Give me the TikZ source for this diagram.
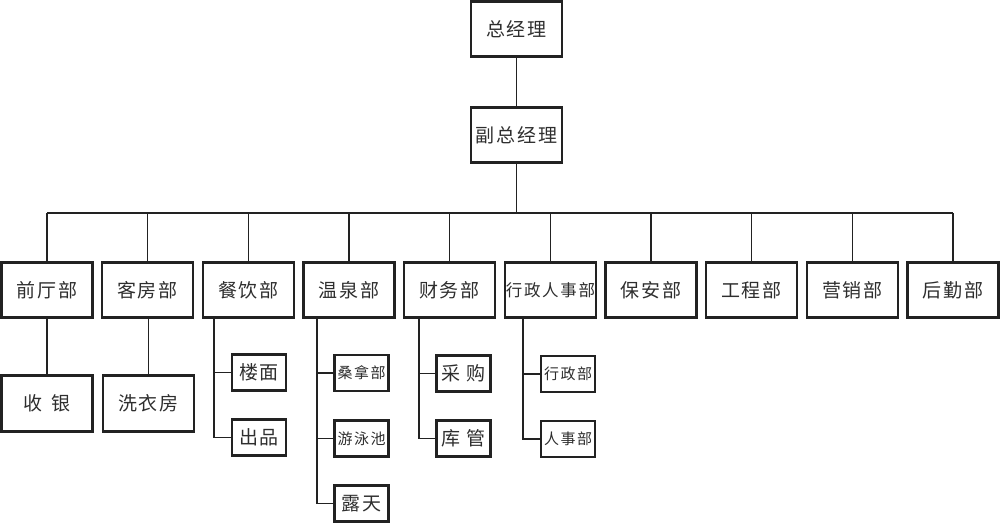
\documentclass[tikz,border=0pt]{standalone}
\usepackage{fontspec}
\newfontfamily\cjk[LetterSpace=10]{Noto Sans CJK SC}
\definecolor{ink}{HTML}{222222}
\definecolor{txt}{HTML}{2E2E2E}
\begin{document}
\begin{tikzpicture}[x=1pt,y=-1pt,
  box/.style={draw=ink, line width=2.2pt, inner sep=0pt, text=txt, font=\cjk\fontsize{19}{19}\selectfont},
  top/.style={box, minimum width=91pt, minimum height=55pt},
  dept/.style={box, minimum width=91pt, minimum height=55pt},
  leaf/.style={box, minimum width=91pt, minimum height=56pt},
  sub/.style={box, line width=2.6pt, minimum width=54pt, minimum height=36pt},
  subs/.style={sub, font=\cjk\fontsize{15}{15}\selectfont},
  link/.style={draw=ink, line width=1.4pt}]
\useasboundingbox (0,0) rectangle (1000,523);
% top
\node[top] (gm) at (516.5,29) {总经理};
\node[top] (vgm) at (516.5,135) {副总经理};
% departments
\node[dept] (d1) at (47,290) {前厅部};
\node[dept] (d2) at (147.5,290) {客房部};
\node[dept] (d3) at (248.5,290) {餐饮部};
\node[dept] (d4) at (349,290) {温泉部};
\node[dept] (d5) at (449.5,290) {财务部};
\node[dept, font=\cjk\fontsize{16.5}{16.5}\selectfont] (d6) at (550.5,290) {行政人事部};
\node[dept] (d7) at (651,290) {保安部};
\node[dept] (d8) at (751.5,290) {工程部};
\node[dept] (d9) at (852.5,290) {营销部};
\node[dept] (d10) at (953,290) {后勤部};
\coordinate (bus) at (0,213);
% leaves
\node[leaf] (l1) at (47,403.5) {收\hspace{0.45em}银};
\node[leaf] (l2) at (148.5,403.5) {洗衣房};
\node[sub] (s31) at (259,372.5) {楼面};
\node[sub] (s32) at (259,437.5) {出品};
\node[subs] (s41) at (361.5,373) {桑拿部};
\node[subs] (s42) at (361.5,438.5) {游泳池};
\node[sub] (s43) at (361.5,503.5) {露天};
\node[sub] (s51) at (463.5,373.5) {采\hspace{0.35em}购};
\node[sub] (s52) at (463.5,438.5) {库\hspace{0.35em}管};
\node[subs] (s61) at (568,374) {行政部};
\node[subs] (s62) at (568,439) {人事部};
% trunk tops
\coordinate (t3) at (214,318);
\coordinate (t4) at (317,318);
\coordinate (t5) at (419,318);
\coordinate (t6) at (523,318);
% connectors
\draw[link] (gm) -- (vgm);
\draw[link] (vgm.south) -- (vgm.south |- bus);
\draw[link] (d1.north |- bus) -- (d10.north |- bus);
\foreach \d in {d1,d2,d3,d4,d5,d6,d7,d8,d9,d10}
  \draw[link] (\d.north) -- (\d.north |- bus);
\draw[link] (d1) -- (l1);
\draw[link] (d2.south) -- (d2.south -| l2) -- (l2.north);
\draw[link] (t3) |- (s31.west);
\draw[link] (t3) |- (s32.west);
\draw[link] (t4) |- (s41.west);
\draw[link] (t4) |- (s42.west);
\draw[link] (t4) |- (s43.west);
\draw[link] (t5) |- (s51.west);
\draw[link] (t5) |- (s52.west);
\draw[link] (t6) |- (s61.west);
\draw[link] (t6) |- (s62.west);
\end{tikzpicture}
\end{document}
